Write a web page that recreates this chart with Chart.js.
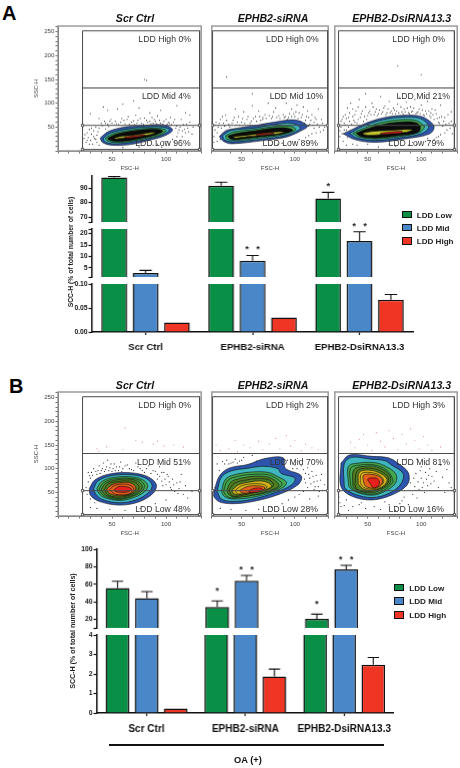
<!DOCTYPE html>
<html><head><meta charset="utf-8">
<style>
html,body{margin:0;padding:0;background:#fff;width:460px;height:768px;overflow:hidden;font-family:"Liberation Sans",Arial,sans-serif}
canvas{position:absolute}
.t{position:absolute;white-space:nowrap;line-height:1;transform:translateY(-50%)}
.c{transform:translate(-50%,-50%)}
.r{transform:translate(-100%,-50%)}
.rot{transform:translate(-50%,-50%) rotate(-90deg)}
</style>
<script src="https://cdn.jsdelivr.net/npm/chart.js@4"></script>
</head><body>
<script>
// ---------- bar data, panel A ----------
const groupsA = ['Scr Ctrl','EPHB2-siRNA','EPHB2-DsiRNA13.3'];
const seriesNames = ['LDD Low','LDD Mid','LDD High'];
const lowA = [97.3,91.6,82.8];
const midA = [2.8,8.1,16.8];
const highA = [0.02,0.03,0.067];
const lowErrA = [98,94,87];
const midErrA = [3.9,10.4,20.8];
const highErrA = [null,null,0.078];
const lowStarsA = ['','','*'];
const midStarsA = ['','* *','* *'];
// ---------- bar data, panel B ----------
const groupsB = ['Scr Ctrl','EPHB2-siRNA','EPHB2-DsiRNA13.3'];
const lowB = [55.7,34,20.3];
const midB = [44,63.8,77];
const highB = [0.23,1.87,2.48];
const lowErrB = [63.4,40.8,25.7];
const midErrB = [51.5,70,81.6];
const highErrB = [null,2.25,2.85];
const lowStarsB = ['','*','*'];
const midStarsB = ['','* *','* *'];
// ---------- axis ticks ----------
const ticksATop = [70,80,90];
const ticksAMid = [5,10,15,20];
const ticksALow = [0,0.05,0.10];
const ticksBTop = [20,40,60,80,100];
const ticksBLow = [0,1,2,3,4];
// ---------- flow gates ----------
const gateBox = [[22.7,3],[22.7,252],[131,252],[131,3],[22.7,3]];
const gateMid = [[22.7,132],[131,132]];
const gateLow = [[22.7,53.5],[131,53.5]];
const gateHandles = [[22.7,53.5],[131,53.5],[22.7,3],[131,3]];
// ---------- gate percentages ----------
const pctA = [['LDD High 0%','LDD Mid 4%','LDD Low 96%'],['LDD High 0%','LDD Mid 10%','LDD Low 89%'],['LDD High 0%','LDD Mid 21%','LDD Low 79%']];
const pctB = [['LDD High 0%','LDD Mid 51%','LDD Low 48%'],['LDD High 2%','LDD Mid 70%','LDD Low 28%'],['LDD High 3%','LDD Mid 81%','LDD Low 16%']];
const sampleNames = ['Scr Ctrl','EPHB2-siRNA','EPHB2-DsiRNA13.3'];
// ---------- contour outlines ----------
const a1Blue = [[39,27],[47,41],[62,50],[81,54],[99,54],[106,44],[99,32],[84,22],[66,13],[49,12],[41,18],[39,27]];
const a1Cyan = [[42,27],[49,38],[64,46],[81,50],[97,50],[103,44],[96,33],[81,24],[65,17],[50,15],[43,20],[42,27]];
const a1Green = [[44,27],[51,36],[65,43],[81,47],[95,47],[100,43],[94,33],[80,26],[64,19],[51,18],[45,22],[44,27]];
const a1Black = [[46,27],[54,35],[67,41],[82,45],[93,45],[97,41],[91,34],[78,27],[64,21],[53,20],[47,23],[46,27]];
const a1Yellow = [[52,27],[60,31],[70,33],[85,38],[90,38],[85,34],[72,30],[60,27],[53,25],[52,27]];
const a1Red = [[62,29],[72,32],[80,34],[80,32],[72,29],[62,27],[62,29]];
const a2Blue = [[29,30],[35,42],[41,46],[62,53],[80,60],[100,65],[112,53],[109,46],[92,29],[71,22],[41,15],[33,20],[29,30]];
const a2Cyan = [[32,32],[40,43],[62,48],[80,55],[97,58],[105,47],[91,32],[70,25],[42,19],[34,23],[32,32]];
const a2Green = [[35,32],[43,40],[62,45],[80,51],[95,52],[101,45],[89,34],[70,28],[44,22],[36,25],[35,32]];
const a2Black = [[37,31],[46,37],[63,42],[80,48],[93,48],[98,43],[87,35],[69,30],[45,24],[39,26],[37,31]];
const a2Yellow = [[42,30],[55,33],[70,37],[85,40],[90,40],[85,36],[70,33],[55,30],[44,27],[42,30]];
const a2Red = [[64,35],[72,37],[80,38],[80,36],[72,34],[64,33],[64,35]];
const a3Blue = [[27,36],[45,55],[60,67],[78,74],[96,74],[105,67],[112,51],[108,36],[84,25],[57,18],[39,23],[27,36]];
const a3Cyan = [[33,37],[45,51],[60,63],[78,70],[95,70],[103,63],[107,50],[101,37],[82,28],[57,22],[40,27],[33,37]];
const a3Green = [[36,37],[47,48],[60,58],[78,65],[93,65],[100,58],[103,49],[97,38],[80,30],[58,25],[42,29],[36,37]];
const a3Black = [[39,37],[49,46],[61,54],[78,60],[93,60],[99,52],[97,39],[79,32],[58,27],[44,30],[39,37]];
const a3Yellow = [[45,37],[55,41],[70,43],[85,45],[92,44],[85,39],[70,36],[55,33],[47,34],[45,37]];
const a3Red = [[62,37],[72,40],[82,41],[82,38],[72,36],[62,35],[62,37]];
const b1Blue = [[29,58],[34,76],[48,89],[69,91],[84,82],[91,66],[88,48],[75,30],[57,23],[38,31],[30,44],[29,58]];
const b1Cyan = [[33,58],[37,74],[49,85],[68,87],[81,80],[87,66],[84,50],[72,34],[56,28],[41,35],[35,46],[33,58]];
const b1Green = [[36,58],[40,72],[50,81],[67,83],[78,77],[83,65],[80,51],[69,38],[56,33],[43,39],[38,47],[36,58]];
const b1Olive = [[40,57],[44,69],[53,76],[66,78],[74,73],[78,63],[75,51],[66,41],[56,37],[46,42],[42,48],[40,57]];
const b1Amber = [[45,56],[49,65],[56,70],[65,71],[70,66],[72,58],[68,48],[60,43],[52,44],[47,49],[45,56]];
const b1Red = [[52,56],[56,62],[63,62],[68,57],[65,51],[58,50],[53,52],[52,56]];
const b1Line1 = [[38,57],[42,70],[51,78],[66,80],[76,75],[80,64],[77,51],[67,40],[56,35],[44,41],[40,48],[38,57]];
const b1Line2 = [[43,56],[46,67],[55,73],[66,74],[72,70],[75,60],[71,49],[63,42],[54,40],[46,45],[43,56]];
const b1Line3 = [[48,56],[51,63],[57,67],[64,67],[69,62],[70,56],[66,47],[59,45],[52,47],[48,56]];
const b2Blue = [[24,51],[29,84],[38,101],[56,109],[71,121],[89,123],[91,101],[106,85],[103,66],[83,44],[59,30],[41,26],[29,30],[24,41],[24,51]];
const b2Cyan = [[27,52],[31,82],[40,95],[56,101],[70,105],[84,100],[87,90],[100,80],[97,66],[82,50],[59,35],[41,31],[31,36],[27,52]];
const b2Green = [[31,52],[35,78],[45,88],[60,93],[75,92],[85,82],[92,72],[90,62],[78,50],[59,39],[42,36],[34,41],[31,52]];
const b2Olive = [[36,54],[40,72],[50,80],[63,84],[75,82],[83,72],[85,63],[74,52],[58,43],[44,40],[38,45],[36,54]];
const b2Amber = [[41,54],[47,66],[58,72],[68,74],[75,70],[78,62],[68,53],[56,47],[46,45],[42,48],[41,54]];
const b2Orange = [[48,54],[55,62],[65,64],[72,60],[68,53],[58,49],[50,49],[48,54]];
const b2Red = [[57,54],[63,59],[69,58],[69,53],[62,50],[57,50],[57,54]];
const b2Line1 = [[33,53],[37,75],[47,84],[61,88],[75,87],[84,77],[88,67],[82,56],[66,46],[50,41],[40,38],[35,44],[33,53]];
const b2Line2 = [[38,54],[43,69],[54,76],[66,79],[76,76],[80,66],[76,58],[62,50],[49,43],[41,43],[38,54]];
const b2Line3 = [[44,54],[50,64],[60,68],[70,67],[74,61],[66,54],[54,48],[46,47],[44,54]];
const b3Blue = [[25,112],[33,129],[54,126],[69,123],[78,112],[88,91],[87,66],[72,44],[54,34],[36,41],[25,62],[25,112]];
const b3Cyan = [[28,66],[28,110],[35,124],[53,120],[66,117],[72,108],[83,90],[81,68],[70,48],[54,39],[38,46],[29,58],[28,66]];
const b3Green = [[32,66],[32,105],[42,112],[55,113],[64,108],[76,90],[76,70],[66,52],[54,44],[40,50],[33,60],[32,66]];
const b3Olive = [[36,65],[37,98],[47,105],[58,104],[70,88],[71,70],[62,55],[53,49],[42,53],[37,60],[36,65]];
const b3Amber = [[41,68],[42,92],[50,97],[60,92],[68,78],[65,64],[55,55],[46,57],[41,68]];
const b3Orange = [[46,72],[46,86],[54,88],[63,80],[63,67],[55,59],[48,63],[46,72]];
const b3Red = [[53,66],[50,78],[58,80],[61,72],[59,62],[55,60],[53,66]];
const b3Line1 = [[34,65],[34,101],[44,108],[56,108],[67,98],[73,80],[73,70],[64,53],[53,46],[41,51],[35,60],[34,65]];
const b3Line2 = [[38,66],[40,95],[48,101],[59,98],[69,83],[68,67],[58,55],[49,52],[40,56],[38,66]];
const b3Line3 = [[43,70],[44,89],[52,92],[61,86],[65,74],[61,62],[53,57],[46,61],[43,70]];
// ---------- scattered events ----------
const a1Dots = [[26,18],[28,28],[30,22],[31,35],[32,14],[33,42],[34,26],[36,18],[36,33],[38,48],[27,38],[29,45],[35,50],[41,53],[44,46],[47,51],[50,58],[53,62],[56,55],[59,68],[62,57],[65,72],[68,60],[71,55],[74,64],[77,58],[80,69],[83,60],[86,57],[89,66],[92,73],[95,58],[98,62],[101,56],[104,70],[107,60],[110,52],[112,44],[114,66],[116,55],[118,38],[120,48],[122,60],[124,35],[110,30],[106,24],[113,22],[100,20],[92,14],[96,8],[42,92],[46,85],[55,88],[60,98],[70,105],[75,90],[30,78],[38,68],[85,80],[95,85],[110,95],[118,80],[122,75],[80,150],[82,148],[44,58],[52,54],[64,66],[72,75],[88,58],[103,58],[108,66],[90,62],[117,46],[48,62],[24,26],[25,34],[27,22],[29,14],[31,48],[33,30],[35,24],[37,40],[38,12],[40,58],[43,62],[46,56],[49,66],[54,57],[58,60],[61,64],[66,56],[70,63],[73,58],[76,68],[79,56],[82,64],[85,62],[87,70],[91,57],[94,64],[97,56],[100,66],[102,60],[105,55],[109,48],[111,38],[113,50],[115,42],[119,56],[121,40],[125,50],[108,18],[115,30],[103,14],[88,12],[75,8],[60,7]];
const a2Dots = [[24,30],[25,44],[26,60],[27,20],[28,50],[30,66],[33,58],[35,75],[38,56],[42,64],[45,54],[47,72],[50,60],[52,82],[55,66],[58,58],[60,95],[63,72],[66,84],[68,64],[72,76],[75,100],[78,68],[82,90],[85,74],[88,110],[90,70],[92,100],[95,78],[97,88],[100,72],[102,96],[104,80],[106,70],[108,92],[110,64],[112,84],[114,56],[116,76],[118,48],[120,66],[122,88],[124,40],[126,58],[128,50],[116,36],[110,28],[104,24],[96,20],[88,16],[78,12],[36,155],[60,120],[44,88],[118,60],[113,70],[101,82],[93,66],[80,82],[70,70],[24,18],[25,54],[27,38],[29,58],[31,48],[32,72],[34,52],[36,64],[39,50],[41,58],[43,70],[46,60],[48,54],[51,68],[53,58],[56,72],[59,62],[61,68],[64,62],[67,72],[70,66],[73,68],[76,74],[79,72],[83,70],[86,68],[89,76],[91,72],[94,70],[97,72],[99,78],[103,68],[105,62],[107,76],[109,58],[111,72],[113,52],[115,64],[117,54],[119,70],[121,56],[123,50],[125,66],[127,44],[120,38],[113,32],[100,18],[84,14],[30,24]];
const a3Dots = [[24,30],[25,50],[26,66],[27,20],[28,58],[29,76],[30,44],[31,90],[33,62],[34,100],[36,72],[38,60],[39,84],[41,66],[42,108],[44,78],[46,62],[48,92],[50,74],[52,84],[54,100],[56,76],[58,88],[60,78],[62,114],[64,82],[66,94],[68,80],[70,104],[72,84],[74,90],[76,78],[78,98],[80,112],[82,82],[84,88],[86,102],[88,80],[90,92],[92,84],[94,108],[96,80],[98,88],[100,96],[102,76],[104,84],[106,104],[108,74],[110,88],[112,66],[114,78],[116,60],[118,96],[120,52],[122,70],[124,44],[126,58],[128,82],[129,36],[116,30],[112,24],[104,20],[96,14],[88,12],[76,10],[60,8],[40,12],[30,12],[100,160],[78,178],[48,120],[65,60],[32,70],[117,70],[109,80],[24,42],[25,62],[26,36],[27,72],[28,44],[29,54],[30,68],[31,28],[32,50],[33,80],[35,56],[36,88],[37,64],[38,76],[40,58],[41,92],[43,70],[45,84],[47,72],[49,66],[51,80],[53,76],[55,92],[57,82],[59,74],[61,86],[63,78],[65,90],[67,76],[69,88],[71,80],[73,78],[75,86],[77,84],[79,80],[81,92],[83,78],[85,82],[87,90],[89,78],[91,82],[93,90],[95,78],[97,82],[99,78],[101,86],[103,74],[105,78],[107,84],[109,70],[111,76],[113,86],[115,68],[117,58],[119,72],[121,62],[123,56],[125,76],[127,48],[128,62],[122,38],[118,34],[114,28],[106,26],[92,18],[70,14],[50,14],[36,14]];
const b1Dots = [[26,60],[27,46],[28,72],[29,85],[30,36],[31,92],[33,100],[34,28],[36,88],[38,106],[40,96],[42,112],[44,98],[46,118],[48,102],[50,94],[52,110],[54,104],[56,96],[58,114],[60,100],[64,108],[68,98],[72,112],[76,100],[80,92],[84,106],[88,96],[92,88],[94,104],[96,74],[98,92],[100,66],[102,84],[104,60],[106,78],[108,52],[110,70],[112,58],[114,88],[116,46],[118,64],[120,38],[124,52],[30,18],[36,16],[48,14],[62,12],[76,16],[90,26],[100,34],[110,22],[28,92],[30,80],[32,86],[35,94],[37,96],[39,90],[41,100],[43,94],[45,104],[47,96],[49,110],[51,100],[53,96],[57,104],[59,94],[62,106],[66,100],[70,96],[74,104],[78,96],[82,100],[86,90],[90,94],[92,78],[94,84],[96,92],[97,64],[99,78],[101,88],[103,72],[105,56],[107,66],[111,48],[113,72]];
const b1Pink = [[36,142],[38,137],[45,146],[62,186],[72,160],[78,156],[88,152],[92,158],[98,148],[107,150],[116,146],[60,140]];
const b2Dots = [[25,60],[27,110],[29,96],[32,115],[36,118],[40,112],[44,120],[48,116],[52,124],[60,128],[64,116],[96,112],[100,108],[104,116],[108,98],[110,90],[112,102],[114,80],[116,94],[118,72],[120,86],[122,62],[124,76],[126,54],[128,66],[112,60],[108,52],[104,46],[100,40],[94,34],[88,26],[78,18],[66,14],[54,12],[40,14],[30,16],[110,70],[118,56],[122,42],[114,36],[93,118],[98,100],[102,100],[106,106],[109,78],[113,88],[115,68],[117,84],[119,62],[121,74],[123,52],[125,88],[34,110],[38,110],[42,114],[46,112],[50,118]];
const b2Pink = [[30,138],[38,142],[46,136],[52,150],[58,144],[66,158],[70,140],[76,152],[82,164],[86,142],[92,170],[96,148],[100,160],[106,138],[110,152],[116,144],[122,140],[44,160],[26,150]];
const b3Dots = [[23,40],[24,28],[25,20],[28,22],[30,34],[32,12],[36,20],[42,24],[48,16],[56,20],[62,14],[70,24],[76,12],[82,32],[88,24],[92,46],[96,38],[94,62],[98,56],[100,80],[102,70],[104,92],[106,64],[108,100],[110,84],[112,74],[114,94],[116,60],[118,108],[120,82],[122,50],[124,98],[126,70],[128,60],[92,110],[96,120],[100,104],[86,120],[90,70],[93,80],[95,90],[97,72],[99,96],[101,60],[103,50],[105,78],[107,86],[109,68],[84,40],[80,26],[66,30],[44,28]];
const b3Pink = [[42,162],[46,172],[50,150],[54,138],[58,176],[62,158],[66,146],[70,180],[74,164],[78,140],[82,172],[86,152],[90,184],[94,160],[98,142],[102,168],[106,150],[38,144],[34,156],[110,138],[118,146]];
// ---------- colours ----------
const cBlue='#2d55ad', cCyan='#3fb6bd', cGreen='#43a64f', cOlive='#4f7d22', cAmber='#d6b41c', cOrange='#e4611b', cRed='#e6201c', cBlack='#0a0a0a', cYellow='#c7c92f', cNone='rgba(0,0,0,0)';
const barColors=['#0a8f47','#4a87c9','#ef3524'];
const FONT='"Liberation Sans", Arial, sans-serif';
Chart.defaults.font.family=FONT;
Chart.defaults.animation=false;
Chart.defaults.devicePixelRatio=1;

const pts=a=>a.map(([x,y])=>({x,y}));
function addCanvas(l,t,w,h){const c=document.createElement('canvas');c.width=w;c.height=h;c.style.cssText=`left:${l}px;top:${t}px;width:${w}px;height:${h}px`;document.body.appendChild(c);return c;}
function text(s,x,y,css,cls){const d=document.createElement('div');d.className='t '+(cls||'');d.textContent=s;d.style.cssText=`left:${x}px;top:${y}px;${css}`;document.body.appendChild(d);return d;}

const framePlugin={id:'frame',beforeDatasetsDraw(ch){const a=ch.chartArea,c=ch.ctx;c.save();c.strokeStyle='#9a9a9a';c.lineWidth=1.5;c.strokeRect(a.left,a.top,a.right-a.left,a.bottom-a.top);c.restore();}};

function flow(area,xr,withY,levels,dots,pink){
  const ml=withY?28:2,mr=3,mt=6,mb=24;
  const cv=addCanvas(area.left-ml,area.top-mt,area.right-area.left+ml+mr,area.bottom-area.top+mt+mb);
  const gate=(d)=>({data:pts(d),showLine:true,borderColor:'#4a4a4a',borderWidth:1,pointRadius:0,fill:false,tension:0});
  const ds=[
    {data:pts(gateHandles),showLine:false,pointStyle:'rect',pointRadius:1.6,pointBackgroundColor:'#fff',pointBorderColor:'#333',pointBorderWidth:.8},
    gate(gateBox),gate(gateMid),gate(gateLow)];
  levels.forEach(([d,col])=>ds.push({data:pts(d),showLine:true,fill:'shape',backgroundColor:col,borderColor:'#0a0a0a',borderWidth:.6,pointRadius:0,tension:.35}));
  ds.push({data:pts(dots),showLine:false,pointRadius:.6,pointBorderWidth:0,pointBackgroundColor:'#2b2b2b'});
  if(pink)ds.push({data:pts(pink),showLine:false,pointRadius:.6,pointBorderWidth:0,pointBackgroundColor:'#d88fa6'});
  new Chart(cv,{type:'scatter',data:{datasets:ds},plugins:[framePlugin],options:{
    responsive:false,layout:{padding:{left:withY?2:ml,right:mr,top:mt,bottom:0}},
    plugins:{legend:{display:false},tooltip:{enabled:false}},
    scales:{
      x:{type:'linear',min:xr[0],max:xr[1],afterFit:s=>{s.height=mb;},
        border:{color:'#444',width:1},grid:{drawOnChartArea:false,tickLength:2.5,tickColor:'#444',tickWidth:.8},
        ticks:{stepSize:10,autoSkip:false,maxRotation:0,padding:2,color:'#444',font:{size:6.2},callback:v=>(v>0&&v%50===0?String(v):'')},
        title:{display:true,text:'FSC-H',color:'#444',font:{size:6},padding:{top:1,bottom:3}}},
      y:{display:withY,min:0,max:262,afterFit:s=>{if(withY)s.width=26;},
        border:{color:'#444',width:1},grid:{drawOnChartArea:false,tickLength:2.5,tickColor:'#444',tickWidth:.8},
        ticks:{stepSize:10,autoSkip:false,padding:1,color:'#444',font:{size:6.2},callback:v=>(v>0&&v%50===0?String(v):'')},
        title:{display:true,text:'SSC-H',color:'#444',font:{size:6},padding:{top:1,bottom:1}}}
    }}});
}

const errPlugin={id:'err',afterDatasetsDraw(ch){const c=ch.ctx,ys=ch.scales.y;
  ch.data.datasets.forEach((d,i)=>{const m=ch.getDatasetMeta(i);
    d.data.forEach((v,j)=>{ if(v<ys.min||v>ys.max)return;
      const x=m.data[j].x; const e=d.errs[j]; const py=ys.getPixelForValue(v);
      let top=py;
      if(e!==null){top=ys.getPixelForValue(e);const w=m.data[j].width*.24;
        c.save();c.strokeStyle='#111';c.lineWidth=1.1;c.beginPath();c.moveTo(x,py);c.lineTo(x,top);c.moveTo(x-w,top);c.lineTo(x+w,top);c.stroke();c.restore();}
      const st=d.stars&&d.stars[j];
      if(st){c.save();c.fillStyle='#222';c.font='bold 9px '+FONT;c.textAlign='center';c.textBaseline='middle';
        c.fillText(st.replace(' ','   '),x,top-d.starGap+1.5);c.restore();}
    });});
}};

function segment(area,groups,series,opt){
  const ml=32,mr=3,mt=14,mb=opt.showX?26:6;
  const cv=addCanvas(area.left-ml,area.top-mt,area.right-area.left+ml+mr,area.bottom-area.top+mt+mb);
  const ds=series.map((s,i)=>({label:seriesNames[i],data:s.v,errs:s.e,stars:s.s,starGap:s.g,backgroundColor:barColors[i],borderColor:'#111',borderWidth:1.5,borderSkipped:'bottom',barPercentage:opt.bp,categoryPercentage:opt.cp,clip:0}));
  new Chart(cv,{type:'bar',data:{labels:groups,datasets:ds},plugins:[errPlugin],options:{
    responsive:false,layout:{padding:{left:0,right:mr,top:mt,bottom:opt.showX?0:mb}},
    plugins:{legend:{display:false},tooltip:{enabled:false}},
    scales:{
      x:{display:!!opt.showX,afterFit:s=>{if(opt.showX)s.height=mb;},
        border:{color:'#111',width:1.5},grid:{offset:false,drawOnChartArea:false,tickLength:3,tickColor:'#111',tickWidth:1.2},
        ticks:{autoSkip:false,maxRotation:0,padding:opt.xPad,color:'#111',font:{size:opt.xSize,weight:'bold'}}},
      y:{min:opt.min,max:opt.max,afterFit:s=>{s.width=ml;},
        afterBuildTicks:s=>{s.ticks=opt.caps.concat(opt.ticks).map(v=>({value:v}));},
        border:{color:'#111',width:1.5},grid:{drawOnChartArea:false,tickLength:3.5,tickColor:'#111',tickWidth:1.2},
        ticks:{autoSkip:false,padding:1,color:'#111',font:{size:6.7,weight:'bold'},callback:v=>opt.ticks.includes(v)?(opt.dec?v.toFixed(opt.dec):String(v)):''}}
    }}});
}

function legend(x,ys,tx){
  seriesNames.forEach((n,i)=>{
    const b=document.createElement('div');
    b.style.cssText=`position:absolute;left:${x}px;top:${ys[i]-4}px;width:8.4px;height:5.6px;background:${barColors[i]};border:1.2px solid #111`;
    document.body.appendChild(b);
    text(n,tx,ys[i],'font:bold 8.1px '+FONT+';color:#222');
  });
}

// Flow plots
const rowA={top:26,bottom:150.5}, rowB={top:392,bottom:516.4};
const colAreas=[{left:57.5,right:203.3,xr:[0,132.5]},{left:209,right:330,xr:[22,131.3]},{left:331.7,right:459,xr:[19.2,133.6]}];
const levA=[
 [[a1Red,cRed],[a1Yellow,cYellow],[a1Black,cBlack],[a1Green,cGreen],[a1Cyan,cCyan],[a1Blue,cBlue]],
 [[a2Red,cRed],[a2Yellow,cYellow],[a2Black,cBlack],[a2Green,cGreen],[a2Cyan,cCyan],[a2Blue,cBlue]],
 [[a3Red,cRed],[a3Yellow,cYellow],[a3Black,cBlack],[a3Green,cGreen],[a3Cyan,cCyan],[a3Blue,cBlue]]];
const levB=[
 [[b1Red,cRed],[b1Line3,cNone],[b1Amber,cOrange],[b1Line2,cNone],[b1Line1,cNone],[b1Olive,cOlive],[b1Green,cGreen],[b1Cyan,cCyan],[b1Blue,cBlue]],
 [[b2Red,cRed],[b2Orange,cOrange],[b2Line3,cNone],[b2Amber,cAmber],[b2Line2,cNone],[b2Olive,cOlive],[b2Line1,cNone],[b2Green,cGreen],[b2Cyan,cCyan],[b2Blue,cBlue]],
 [[b3Red,cRed],[b3Orange,cOrange],[b3Line3,cNone],[b3Amber,cAmber],[b3Line2,cNone],[b3Olive,cOlive],[b3Line1,cNone],[b3Green,cGreen],[b3Cyan,cCyan],[b3Blue,cBlue]]];
const dotsA=[a1Dots,a2Dots,a3Dots], dotsB=[b1Dots,b2Dots,b3Dots], pinkB=[b1Pink,b2Pink,b3Pink];
colAreas.forEach((c,i)=>{
  flow({left:c.left,right:c.right,top:rowA.top,bottom:rowA.bottom},c.xr,i===0,levA[i],dotsA[i],null);
  flow({left:c.left,right:c.right,top:rowB.top,bottom:rowB.bottom},c.xr,i===0,levB[i],dotsB[i],pinkB[i]);
});

// Panel A bars (broken axis: three stacked segments)
const seriesA=[{v:lowA,e:lowErrA,s:lowStarsA,g:7},{v:midA,e:midErrA,s:midStarsA,g:7},{v:highA,e:highErrA,s:null,g:7}];
const optA={bp:.82,cp:.88,xSize:9.6,xPad:7};
const xA={left:92.4,right:412.7};
segment({...xA,top:175.7,bottom:221.7},groupsA,seriesA,{...optA,min:66.6,max:98.3,ticks:ticksATop,caps:[66.6]});
segment({...xA,top:228.7,bottom:277},groupsA,seriesA,{...optA,min:1,max:22,ticks:ticksAMid,caps:[1,22]});
segment({...xA,top:284.3,bottom:332.3},groupsA,seriesA,{...optA,min:0,max:0.10,ticks:ticksALow,caps:[],dec:2,showX:true});
// Panel B bars (two stacked segments)
const seriesB=[{v:lowB,e:lowErrB,s:lowStarsB,g:11},{v:midB,e:midErrB,s:midStarsB,g:7},{v:highB,e:highErrB,s:null,g:7}];
const optB={bp:.81,cp:.883,xSize:10,xPad:7.5};
const xB={left:97,right:395.8};
segment({...xB,top:549.3,bottom:627.7},groupsB,seriesB,{...optB,min:10,max:100,ticks:ticksBTop,caps:[10]});
segment({...xB,top:635.3,bottom:713.3},groupsB,seriesB,{...optB,min:0,max:4,ticks:ticksBLow,caps:[],showX:true});

// Text overlays
text('A',2,12.5,'font:bold 20px '+FONT+';color:#000');
text('B',9,385.5,'font:bold 20px '+FONT+';color:#000');
const titleX=[135,273,401.7];
sampleNames.forEach((n,i)=>{
  text(n,titleX[i],18,'font:italic bold 10.6px '+FONT+';color:#111','c');
  text(n,titleX[i],384.7,'font:italic bold 10.6px '+FONT+';color:#111','c');
});
const rightX=[[191,190.7,190.7],[318.7,323.3,318],[445,450,444]];
const pctY=[0,57,104.6];
[[pctA,38.7],[pctB,404.7]].forEach(([p,y0])=>p.forEach((col,i)=>col.forEach((s,j)=>{
  text(s,rightX[i][j],y0+pctY[j],'font:8.7px '+FONT+';color:#333','r');
})));
text('SCC-H (% of total number of cells)',69.7,252.3,'font:bold 6.8px '+FONT+';color:#222','rot');
text('SCC-H (% of total number of cells)',73.3,631,'font:bold 7.1px '+FONT+';color:#222','rot');
legend(401.7,[214.7,227.7,241],416.7);
legend(394,[587.7,601.3,615],409.3);
const rule=document.createElement('div');rule.style.cssText='position:absolute;left:109px;top:744.4px;width:275px;height:1.3px;background:#111';document.body.appendChild(rule);
text('OA (+)',248,760,'font:bold 9.3px '+FONT+';color:#111','c');
</script>
</body></html>
